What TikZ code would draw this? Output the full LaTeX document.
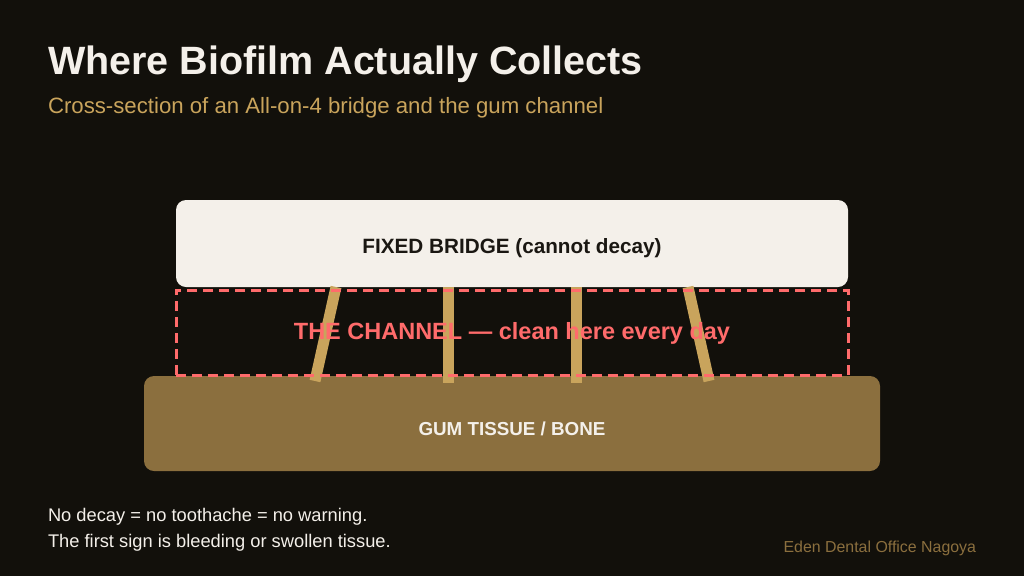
\documentclass[tikz,border=0pt]{standalone}
\usepackage{fontspec}
\setmainfont{Liberation Sans}
\definecolor{bg}{HTML}{12100B}
\definecolor{ivory}{HTML}{F4F0EA}
\definecolor{gold}{HTML}{C9A45C}
\definecolor{gum}{HTML}{8B6F3E}
\definecolor{coral}{HTML}{FF6B6B}
\definecolor{ink}{HTML}{1A1712}
\begin{document}
\begin{tikzpicture}[x=1pt,y=-1pt,
  txt/.style={inner sep=0pt,outer sep=0pt},
  implant/.style={draw=gold,line width=11pt},
  lbl/.style={txt,font=\bfseries}]
\fill[bg] (0,0) rectangle (1024,576);
\useasboundingbox (0,0) rectangle (1024,576);
% title
\node[txt,anchor=base west,text=ivory,font=\fontsize{39.5}{44}\selectfont\bfseries] (title) at (48,74) {Where Biofilm Actually Collects};
\node[txt,anchor=base west,text=gold,font=\fontsize{22.2}{26}\selectfont] (sub) at (48,113) {Cross-section of an All-on-4 bridge and the gum channel};
% bridge
\node[fill=ivory,rounded corners=10pt,minimum width=672pt,minimum height=87pt,inner sep=0pt] (bridge) at (512,243.5) {};
\node[lbl,text=ink,font=\fontsize{20.7}{24}\selectfont\bfseries] (bridgetxt) at (512,248) {FIXED BRIDGE (cannot decay)};
% gum
\node[fill=gum,rounded corners=10pt,minimum width=736pt,minimum height=95pt,inner sep=0pt] (gumbox) at (512,423.5) {};
% implants
\coordinate (i1t) at (336,287); \coordinate (i1b) at (315,381);
\coordinate (i2t) at (448,287); \coordinate (i2b) at (448,383);
\coordinate (i3t) at (576,287); \coordinate (i3b) at (576,383);
\coordinate (i4t) at (688,287); \coordinate (i4b) at (709,381);
\draw[implant] (i1t) -- (i1b);
\draw[implant] (i2t) -- (i2b);
\draw[implant] (i3t) -- (i3b);
\draw[implant] (i4t) -- (i4b);
% channel
\node[draw=coral,line width=3pt,dash pattern=on 10pt off 6pt,minimum width=672pt,minimum height=85pt,inner sep=0pt] (channel) at (512,332.5) {};
\node[lbl,text=coral,font=\fontsize{23.5}{28}\selectfont\bfseries] (chtxt) at (512,333) {THE CHANNEL — clean here every day};
\node[lbl,text=ivory,font=\fontsize{18.8}{22}\selectfont\bfseries] (gumtxt) at (512,429) {GUM TISSUE / BONE};
% footer
\node[txt,anchor=base west,text=ivory,font=\fontsize{18.3}{22}\selectfont] (n1) at (48,521) {No decay = no toothache = no warning.};
\node[txt,anchor=base west,text=ivory,font=\fontsize{18.3}{22}\selectfont] (n2) at (48,547) {The first sign is bleeding or swollen tissue.};
\node[txt,anchor=base east,text=gum,font=\fontsize{15.9}{19}\selectfont] (eden) at (976,552) {Eden Dental Office Nagoya};
\end{tikzpicture}
\end{document}
